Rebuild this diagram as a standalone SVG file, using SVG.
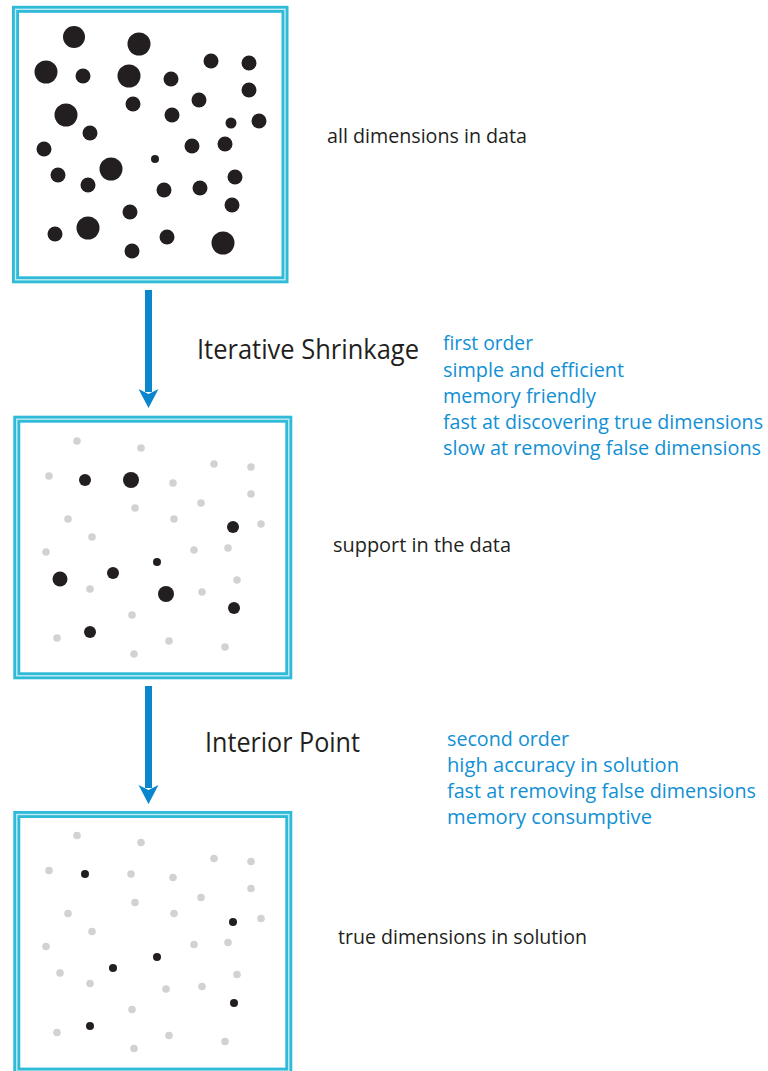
<svg xmlns="http://www.w3.org/2000/svg" width="768" height="1071" viewBox="0 0 768 1071">
<style>
.frame{fill:#fff;stroke:#2fbad8;stroke-width:7}
.frameIn{fill:none;stroke:#c2ebf4;stroke-width:1.4}
.b{fill:#231f20}
.g{fill:#d1d2d4}
.lbl{font-family:"Open Sans","Liberation Sans",sans-serif;fill:#231f20}
.blue{font-family:"Open Sans","Liberation Sans",sans-serif;fill:#1190d4;font-size:20px}
.arr{fill:#0a86cd}
</style>
<defs>
<g id="grays">
<circle class="g" cx="77" cy="441" r="3.8"/>
<circle class="g" cx="141" cy="448" r="3.8"/>
<circle class="g" cx="214" cy="464" r="3.8"/>
<circle class="g" cx="251" cy="467" r="3.8"/>
<circle class="g" cx="49" cy="476" r="3.8"/>
<circle class="g" cx="173" cy="483" r="3.8"/>
<circle class="g" cx="251" cy="494" r="3.8"/>
<circle class="g" cx="201" cy="503" r="3.8"/>
<circle class="g" cx="135" cy="508" r="3.8"/>
<circle class="g" cx="68" cy="519" r="3.8"/>
<circle class="g" cx="174" cy="519" r="3.8"/>
<circle class="g" cx="261" cy="524" r="3.8"/>
<circle class="g" cx="92" cy="537" r="3.8"/>
<circle class="g" cx="46" cy="552" r="3.8"/>
<circle class="g" cx="194" cy="550" r="3.8"/>
<circle class="g" cx="228" cy="548" r="3.8"/>
<circle class="g" cx="237" cy="580" r="3.8"/>
<circle class="g" cx="90" cy="589" r="3.8"/>
<circle class="g" cx="202" cy="592" r="3.8"/>
<circle class="g" cx="132" cy="615" r="3.8"/>
<circle class="g" cx="57" cy="638" r="3.8"/>
<circle class="g" cx="169" cy="641" r="3.8"/>
<circle class="g" cx="225" cy="647" r="3.8"/>
<circle class="g" cx="134" cy="654" r="3.8"/>
</g>
</defs>

<g id="box-all-dimensions">
<rect class="frame" x="15.5" y="9.3" width="269.5" height="270.5"/>
<rect class="frameIn" x="15.5" y="9.3" width="269.5" height="270.5"/>
<circle class="b" cx="74" cy="37" r="11"/>
<circle class="b" cx="139" cy="44" r="11.5"/>
<circle class="b" cx="46" cy="72" r="11.5"/>
<circle class="b" cx="83" cy="76" r="7.5"/>
<circle class="b" cx="129" cy="76" r="11.5"/>
<circle class="b" cx="171" cy="79" r="7.5"/>
<circle class="b" cx="211" cy="61" r="7.5"/>
<circle class="b" cx="249" cy="63" r="7.5"/>
<circle class="b" cx="249" cy="90" r="7.5"/>
<circle class="b" cx="199" cy="100" r="7.5"/>
<circle class="b" cx="133" cy="104" r="7.5"/>
<circle class="b" cx="172" cy="115" r="7.5"/>
<circle class="b" cx="66" cy="115" r="11.5"/>
<circle class="b" cx="231" cy="123" r="5.5"/>
<circle class="b" cx="259" cy="121" r="7.5"/>
<circle class="b" cx="90" cy="133" r="7.5"/>
<circle class="b" cx="44" cy="149" r="7.5"/>
<circle class="b" cx="192" cy="146" r="7.5"/>
<circle class="b" cx="225" cy="144" r="7.5"/>
<circle class="b" cx="155" cy="159" r="4"/>
<circle class="b" cx="111" cy="169" r="11.5"/>
<circle class="b" cx="58" cy="175" r="7.5"/>
<circle class="b" cx="88" cy="185" r="7.5"/>
<circle class="b" cx="164" cy="190" r="7.5"/>
<circle class="b" cx="200" cy="188" r="7.5"/>
<circle class="b" cx="235" cy="177" r="7.5"/>
<circle class="b" cx="232" cy="205" r="7.5"/>
<circle class="b" cx="130" cy="212" r="7.5"/>
<circle class="b" cx="88" cy="228" r="11.5"/>
<circle class="b" cx="55" cy="234" r="7.5"/>
<circle class="b" cx="167" cy="237" r="7.5"/>
<circle class="b" cx="132" cy="251" r="7.5"/>
<circle class="b" cx="223" cy="243" r="11.5"/>
<text class="lbl" x="327" y="143" font-size="20" textLength="200" lengthAdjust="spacingAndGlyphs">all dimensions in data</text>
</g>

<g id="box-support">
<rect class="frame" x="16.8" y="419.2" width="272" height="256.6"/>
<rect class="frameIn" x="16.8" y="419.2" width="272" height="256.6"/>
<use href="#grays"/>
<circle class="b" cx="85" cy="480" r="6"/>
<circle class="b" cx="131" cy="480" r="8"/>
<circle class="b" cx="233" cy="527" r="6"/>
<circle class="b" cx="157" cy="562" r="4"/>
<circle class="b" cx="113" cy="573" r="6"/>
<circle class="b" cx="60" cy="579" r="7.5"/>
<circle class="b" cx="166" cy="594" r="8"/>
<circle class="b" cx="234" cy="608" r="6"/>
<circle class="b" cx="90" cy="632" r="6"/>
<text class="lbl" x="333" y="552" font-size="20" textLength="178" lengthAdjust="spacingAndGlyphs">support in the data</text>
</g>

<g id="box-solution">
<rect class="frame" x="16.8" y="814.5" width="272" height="256.6"/>
<rect class="frameIn" x="16.8" y="814.5" width="272" height="256.6"/>
<use href="#grays" transform="translate(0,394.5)"/>
<circle class="g" cx="131" cy="874" r="3.8"/>
<circle class="g" cx="60" cy="973" r="3.8"/>
<circle class="g" cx="166" cy="989" r="3.8"/>
<circle class="b" cx="85" cy="874" r="4"/>
<circle class="b" cx="233" cy="922" r="4"/>
<circle class="b" cx="157" cy="957" r="4"/>
<circle class="b" cx="113" cy="968" r="4"/>
<circle class="b" cx="234" cy="1003" r="4"/>
<circle class="b" cx="90" cy="1026" r="4"/>
<text class="lbl" x="338" y="944" font-size="20" textLength="249" lengthAdjust="spacingAndGlyphs">true dimensions in solution</text>
</g>

<g id="connectors">
<g id="arrow-iterative-shrinkage">
<rect class="arr" x="145" y="290" width="7" height="102"/>
<path class="arr" d="M138.5,389 L148.5,408 L158.5,389 L148.5,394 Z"/>
<text class="lbl" x="197" y="359" font-size="27" textLength="222" lengthAdjust="spacingAndGlyphs">Iterative Shrinkage</text>
<text class="blue" x="443" y="350" textLength="90" lengthAdjust="spacingAndGlyphs">first order</text>
<text class="blue" x="443" y="376.5" textLength="181" lengthAdjust="spacingAndGlyphs">simple and efficient</text>
<text class="blue" x="443" y="403" textLength="153" lengthAdjust="spacingAndGlyphs">memory friendly</text>
<text class="blue" x="443" y="429" textLength="320" lengthAdjust="spacingAndGlyphs">fast at discovering true dimensions</text>
<text class="blue" x="443" y="455" textLength="318" lengthAdjust="spacingAndGlyphs">slow at removing false dimensions</text>
</g>
<g id="arrow-interior-point">
<rect class="arr" x="145" y="686" width="7" height="102"/>
<path class="arr" d="M138.5,785 L148.5,804 L158.5,785 L148.5,790 Z"/>
<text class="lbl" x="205" y="752" font-size="27" textLength="155" lengthAdjust="spacingAndGlyphs">Interior Point</text>
<text class="blue" x="447" y="746" textLength="122" lengthAdjust="spacingAndGlyphs">second order</text>
<text class="blue" x="447" y="772" textLength="232" lengthAdjust="spacingAndGlyphs">high accuracy in solution</text>
<text class="blue" x="447" y="798" textLength="309" lengthAdjust="spacingAndGlyphs">fast at removing false dimensions</text>
<text class="blue" x="447" y="824" textLength="205" lengthAdjust="spacingAndGlyphs">memory consumptive</text>
</g>
</g>
</svg>
